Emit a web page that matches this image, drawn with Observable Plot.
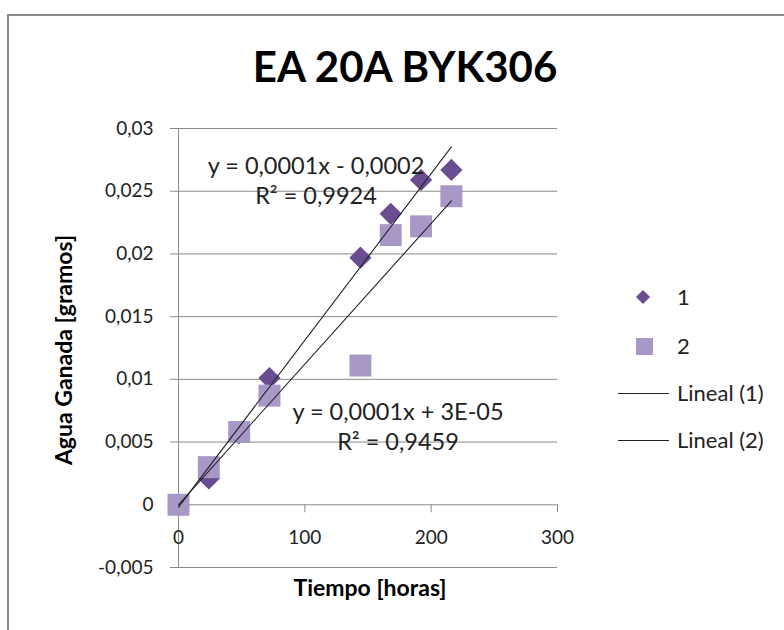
<!DOCTYPE html>
<html>
<head>
<meta charset="utf-8">
<script src="https://cdn.jsdelivr.net/npm/d3@7"></script>
<script src="https://cdn.jsdelivr.net/npm/@observablehq/plot@0.6"></script>
<style>
  html, body { margin: 0; padding: 0; background: #fff; }
  #wrap { position: relative; width: 784px; height: 630px; overflow: hidden; background: #fff; font-family: Lato, "Open Sans", sans-serif; color: #222; }
  #frame { position: absolute; left: 7px; top: 14px; width: 900px; height: 800px; border: 2px solid #8a8a8a; box-sizing: border-box; }
  .t { position: absolute; white-space: nowrap; line-height: 1; transform: translate(-50%, -50%); }
  #chart { position: absolute; left: 0; top: 0; }
</style>
</head>
<body>
<div id="wrap">
  <div id="frame"></div>
  <div id="chart"></div>
</div>
<script>
// ---- data ----
const title = "EA 20A BYK306";
const xLabel = "Tiempo [horas]";
const yLabel = "Agua Ganada [gramos]";
const seriesNames = ["1", "2"];
const trendNames = ["Lineal (1)", "Lineal (2)"];
const tiempo1 = [0, 24, 48, 72, 144, 168, 192, 216];
const agua1   = [0, 0.0021, 0.0057, 0.0101, 0.0197, 0.0232, 0.0259, 0.0267];
const tiempo2 = [0, 24, 48, 72, 144, 168, 192, 216];
const agua2   = [0, 0.0030, 0.0058, 0.0087, 0.0111, 0.0215, 0.0222, 0.0246];
const xTicks = [0, 100, 200, 300];
const yTicks = [-0.005, 0, 0.005, 0.01, 0.015, 0.02, 0.025, 0.03];
const eq1 = ["y = 0,0001x - 0,0002", "R² = 0,9924"];
const eq2 = ["y = 0,0001x + 3E-05", "R² = 0,9459"];

const colors = ["#6a4c93", "#a898c8"];
const gridColor = "#8a8a8a";
const textColor = "#222";

const s1 = tiempo1.map((t, i) => ({t, a: agua1[i]}));
const s2 = tiempo2.map((t, i) => ({t, a: agua2[i]}));

const fmt = d => d === 0 ? "0" : String(d).replace(".", ",");

const plot = Plot.plot({
  width: 784,
  height: 630,
  marginLeft: 178,
  marginRight: 227,
  marginTop: 128,
  marginBottom: 63,
  style: {fontFamily: "Lato, 'Open Sans', sans-serif", background: "transparent"},
  x: {domain: [0, 300]},
  y: {domain: [-0.005, 0.03]},
  marks: [
    Plot.gridY({ticks: yTicks, stroke: gridColor, strokeOpacity: 1, strokeWidth: 1}),
    Plot.ruleX([0], {stroke: gridColor, strokeWidth: 1}),
    Plot.axisY({ticks: yTicks, tickSize: 8, tickPadding: 17, tickFormat: fmt, label: null,
                stroke: gridColor, fill: textColor, fontSize: 19}),
    Plot.axisX({ticks: xTicks, y: 0, tickSize: 8, tickPadding: 18, tickFormat: fmt, label: null,
                stroke: gridColor, fill: textColor, fontSize: 19}),
    Plot.dot(s1, {x: "t", y: "a", symbol: "diamond2", r: 10, fill: colors[0], stroke: "none"}),
    Plot.dot(s2, {x: "t", y: "a", symbol: "square", r: 12.4, fill: colors[1], stroke: "none"}),
    Plot.linearRegressionY(s1, {x: "t", y: "a", stroke: textColor, strokeWidth: 1.1, ci: 0}),
    Plot.linearRegressionY(s2, {x: "t", y: "a", stroke: textColor, strokeWidth: 1.1, ci: 0})
  ]
});
document.getElementById("chart").appendChild(plot);

const wrap = document.getElementById("wrap");
function addText(txt, x, y, style = {}) {
  const d = document.createElement("div");
  d.className = "t";
  d.textContent = txt;
  d.style.left = x + "px";
  d.style.top = y + "px";
  Object.assign(d.style, style);
  wrap.appendChild(d);
  return d;
}
// title
addText(title, 405, 66, {fontSize: "42px", fontWeight: "bold", color: "#000"});
// axis titles
addText(xLabel, 370, 587, {fontSize: "23px", fontWeight: "bold", color: "#000"});
addText(yLabel, 63, 350, {fontSize: "23px", fontWeight: "bold", color: "#000", transform: "translate(-50%, -50%) rotate(-90deg)"});
// trend equations
const eqStyle = {fontSize: "23.5px"};
addText(eq1[0], 316, 166, eqStyle);
addText(eq1[1], 316, 196, eqStyle);
addText(eq2[0], 398, 412, eqStyle);
addText(eq2[1], 398, 442, eqStyle);

// legend
function addLeft(txt, x, y) {
  return addText(txt, x, y, {fontSize: "22px", transform: "translate(0, -50%)"});
}
const dia = document.createElement("div");
Object.assign(dia.style, {position: "absolute", left: "638px", top: "292px", width: "10px", height: "10px", background: colors[0], transform: "rotate(45deg)"});
wrap.appendChild(dia);
addLeft(seriesNames[0], 677, 297);
const sq = document.createElement("div");
Object.assign(sq.style, {position: "absolute", left: "636px", top: "338px", width: "17px", height: "17px", background: colors[1]});
wrap.appendChild(sq);
addLeft(seriesNames[1], 677, 346);
[393, 440].forEach((y, i) => {
  const l = document.createElement("div");
  Object.assign(l.style, {position: "absolute", left: "618px", top: (y - 0.5) + "px", width: "51px", height: "1px", background: textColor});
  wrap.appendChild(l);
  addLeft(trendNames[i], 677, y);
});
</script>
</body>
</html>
